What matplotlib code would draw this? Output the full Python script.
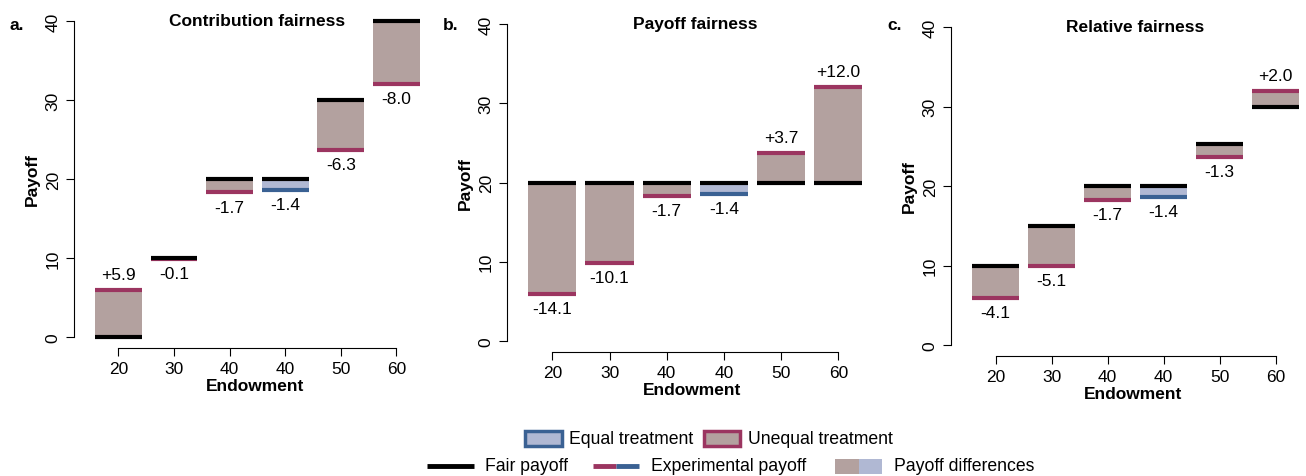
import matplotlib
matplotlib.use("Agg")
import matplotlib.pyplot as plt
from matplotlib.patches import Rectangle

plt.rcParams['font.family'] = ['Liberation Sans', 'DejaVu Sans']

endowments = ['20', '30', '40', '40', '50', '60']
treatment = ['unequal', 'unequal', 'unequal', 'equal', 'unequal', 'unequal']
experimental = [5.9, 9.9, 18.3, 18.6, 23.7, 32.0]
fair_contribution = [0, 10, 20, 20, 30, 40]
fair_payoff = [20, 20, 20, 20, 20, 20]
fair_relative = [10, 15, 20, 20, 25.3, 30]
diff_contribution = [5.9, -0.1, -1.7, -1.4, -6.3, -8.0]
diff_payoff = [-14.1, -10.1, -1.7, -1.4, 3.7, 12.0]
diff_relative = [-4.1, -5.1, -1.7, -1.4, -1.3, 2.0]

fill = {'unequal': '#b3a19f', 'equal': '#b0b8d3'}
edge = {'unequal': '#9b3560', 'equal': '#3a6193'}

W, H = 1306, 477
fig = plt.figure(figsize=(W / 100, H / 100), dpi=100)

panels = [
    ('a.', 'Contribution fairness', fair_contribution, diff_contribution, (85, 338, 22)),
    ('b.', 'Payoff fairness', fair_payoff, diff_payoff, (518, 342, 25)),
    ('c.', 'Relative fairness', fair_relative, diff_relative, (962, 346, 28)),
]
unit = [55.6, 57.2, 56.0]
x = list(range(1, 7))
bw = 0.42
fs = 12.5

for k, (letter, title, fair, diff, (left, y0, y40)) in enumerate(panels):
    width = unit[k] * 6.1
    ax = fig.add_axes([left / W, (H - y0) / H, width / W, (y0 - y40) / H])
    ax.set_xlim(0.4, 6.5)
    ax.set_ylim(0, 40)
    for i in range(6):
        f, e, t = fair[i], experimental[i], treatment[i]
        lo, hi = min(f, e), max(f, e)
        ax.add_patch(Rectangle((x[i] - bw, lo), 2 * bw, hi - lo, facecolor=fill[t],
                               edgecolor='none', clip_on=False))
        ax.plot([x[i] - bw, x[i] + bw], [e, e], color=edge[t], lw=3,
                solid_capstyle='butt', clip_on=False)
        ax.plot([x[i] - bw, x[i] + bw], [f, f], color='black', lw=3,
                solid_capstyle='butt', clip_on=False)
        txt = ('+%.1f' if diff[i] > 0 else '%.1f') % diff[i]
        if diff[i] > 0:
            ax.text(x[i], hi + 1.0, txt, ha='center', va='bottom', fontsize=fs)
        else:
            ax.text(x[i], lo - 0.9, txt, ha='center', va='top', fontsize=fs)
    for s in ['top', 'right']:
        ax.spines[s].set_visible(False)
    ax.spines['left'].set_position(('outward', 8))
    ax.spines['bottom'].set_position(('outward', 8))
    ax.spines['bottom'].set_bounds(1, 6)
    ax.set_xticks(x)
    ax.set_xticklabels(endowments, fontsize=fs)
    ax.set_yticks([0, 10, 20, 30, 40])
    ax.set_yticklabels(['0', '10', '20', '30', '40'], fontsize=fs, rotation=90, va='center')
    ax.tick_params(length=6)
    ax.set_xlabel('Endowment', fontsize=fs, fontweight='bold', labelpad=1)
    ax.set_ylabel('Payoff', fontsize=fs, fontweight='bold', labelpad=4)
    ax.text(3.5, 40, title, ha='center', va='center', fontsize=fs, fontweight='bold')
    fig.text((left - 75) / W, (H - 25) / H, letter, fontsize=fs, fontweight='bold',
             va='center')

# legend drawn in pixel coordinates
lfs = 12.7
lg = fig.add_axes([0, 0, 1, 1], zorder=-1)
lg.set_xlim(0, W)
lg.set_ylim(H, 0)
lg.axis('off')
lg.add_patch(Rectangle((525, 432), 37, 15, facecolor=fill['equal'], edgecolor=edge['equal'], lw=2.5))
lg.text(569, 440, 'Equal treatment', va='center', fontsize=lfs)
lg.add_patch(Rectangle((704, 432), 36, 15, facecolor=fill['unequal'], edgecolor=edge['unequal'], lw=2.5))
lg.text(748, 440, 'Unequal treatment', va='center', fontsize=lfs)
lg.plot([427, 474], [467, 467], color='black', lw=3.5, solid_capstyle='butt')
lg.text(485, 467, 'Fair payoff', va='center', fontsize=lfs)
lg.plot([593, 616], [467, 467], color=edge['unequal'], lw=3.5, solid_capstyle='butt')
lg.plot([616, 639], [467, 467], color=edge['equal'], lw=3.5, solid_capstyle='butt')
lg.text(651, 467, 'Experimental payoff', va='center', fontsize=lfs)
lg.add_patch(Rectangle((835, 460), 24, 15, facecolor=fill['unequal'], edgecolor='none'))
lg.add_patch(Rectangle((859, 460), 23, 15, facecolor=fill['equal'], edgecolor='none'))
lg.text(894, 467, 'Payoff differences', va='center', fontsize=lfs)

fig.savefig('out.png', dpi=100)
